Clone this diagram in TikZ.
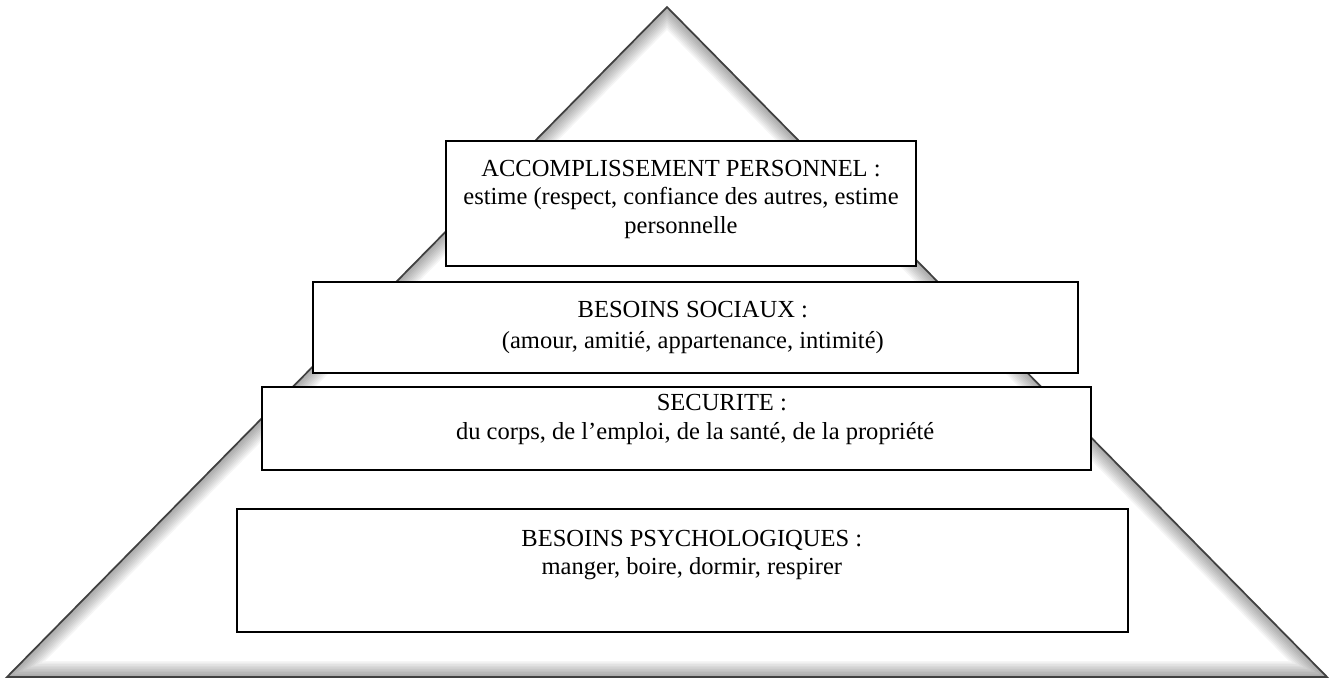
\documentclass[tikz,border=0pt]{standalone}
\usepackage{fontspec}
\setmainfont{Liberation Serif}
\newfontfamily\pyrfont{Liberation Serif}
\usetikzlibrary{positioning,shadows}

\begin{document}
\begin{tikzpicture}[x=0.75pt,y=-0.75pt,
  level/.style={rectangle,draw=black,line width=0.9pt,fill=white,inner sep=0pt,
    drop shadow={shadow xshift=0.6pt,shadow yshift=-0.9pt,opacity=0.45,fill=gray}},
  lbl/.style={align=center,inner sep=0pt,font=\pyrfont\fontsize{18.4}{21.5}\selectfont}]

\useasboundingbox (0,0) rectangle (1333,678);

\coordinate (top) at (667,7);
\coordinate (bl)  at (7,677);
\coordinate (br)  at (1327,677);

% pyramid with its inner shadow
\begin{scope}
\clip (top) -- (bl) -- (br) -- cycle;
\foreach \w in {1,...,10}
  \draw[black,opacity=0.04,line width=\w*2.4pt] (top) -- (bl) -- (br) -- cycle;
\end{scope}
\draw[black!75,line width=1.3pt] (top) -- (bl) -- (br) -- cycle;

% the four levels
\node[level,minimum width=352.5pt,minimum height=93.75pt] (L1) at (681,203.5) {};
\node[level,minimum width=573.75pt,minimum height=68.25pt] (L2) at (695.5,327.5) {};
\node[level,minimum width=621.75pt,minimum height=62.25pt] (L3) at (676.5,428.5) {};
\node[level,minimum width=668.25pt,minimum height=92.25pt] (L4) at (682.5,570.5) {};

\node[lbl] (T1) [below=14.5pt of L1.north]             {ACCOMPLISSEMENT PERSONNEL :\\estime (respect, confiance des autres, estime\\personnelle};
\node[lbl] (T2) [below=15pt of L2.north,xshift=-2pt]   {BESOINS SOCIAUX :\\[1.5pt](amour, amitié, appartenance, intimité)};
\node[lbl] (T3) [below=6pt of L3.north,xshift=14pt]    {\hspace*{40pt}SECURITE :\\du corps, de l’emploi, de la santé, de la propriété};
\node[lbl] (T4) [below=16pt of L4.north,xshift=7pt]    {BESOINS PSYCHOLOGIQUES :\\manger, boire, dormir, respirer};

\end{tikzpicture}
\end{document}
